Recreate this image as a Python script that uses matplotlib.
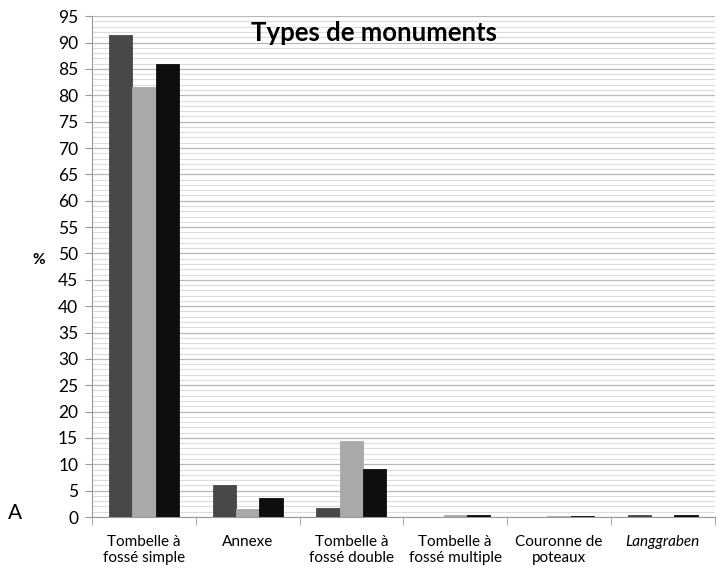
import matplotlib
matplotlib.use("Agg")
import matplotlib.pyplot as plt
import numpy as np
from matplotlib.ticker import MultipleLocator

categories = ["Tombelle à\nfossé simple", "Annexe", "Tombelle à\nfossé double",
              "Tombelle à\nfossé multiple", "Couronne de\npoteaux", "Langgraben"]
series1 = [91.5, 6.0, 1.8, 0.0, 0.0, 0.3]
series2 = [81.5, 1.5, 14.5, 0.3, 0.2, 0.0]
series3 = [86.0, 3.7, 9.2, 0.3, 0.2, 0.3]
colors = ["#484848", "#a9a9a9", "#0e0e0e"]

plt.rcParams['font.family'] = ['Lato', 'DejaVu Sans']
fig = plt.figure(figsize=(7.19, 5.73), dpi=100)
ax = fig.add_axes([0.128, 0.0977, 0.866, 0.874])

x = np.arange(len(categories))
w = 0.225
for i, (vals, c) in enumerate(zip([series1, series2, series3], colors)):
    ax.bar(x + (i - 1) * w, vals, width=w, color=c, edgecolor=c, linewidth=0.6, zorder=3)

ax.set_xlim(-0.5, len(categories) - 0.5)
ax.set_ylim(0, 95)
ax.yaxis.set_major_locator(MultipleLocator(5))
ax.yaxis.set_minor_locator(MultipleLocator(1))
ax.grid(axis='y', which='major', color='#b8b8b8', linewidth=0.9, zorder=0)
ax.grid(axis='y', which='minor', color='#dcdcdc', linewidth=0.8, zorder=0)
ax.tick_params(axis='y', which='minor', length=0)
ax.tick_params(axis='y', which='major', length=5, color='#999999', labelsize=12.5, pad=5)

ax.set_xticks(x)
ax.set_xticklabels(categories, fontsize=11)
ax.get_xticklabels()[-1].set_style('italic')
ax.tick_params(axis='x', which='major', length=0, pad=13)
ax.set_xticks(np.arange(-0.5, len(categories)), minor=True)
ax.tick_params(axis='x', which='minor', length=6, color='#999999')

for s in ['top', 'right']:
    ax.spines[s].set_visible(False)
ax.spines['left'].set_color('#999999')
ax.spines['bottom'].set_color('#999999')

ax.set_ylabel('%', rotation=0, fontsize=11, fontweight='bold')
ax.yaxis.set_label_coords(-0.085, 0.5)
ax.text(0.453, 0.99, 'Types de monuments', transform=ax.transAxes, ha='center', va='top',
        fontsize=18.5, fontweight='bold', zorder=5)
fig.text(0.021, 0.105, 'A', fontsize=15, ha='center', va='center')

fig.savefig('out.png', dpi=100)
